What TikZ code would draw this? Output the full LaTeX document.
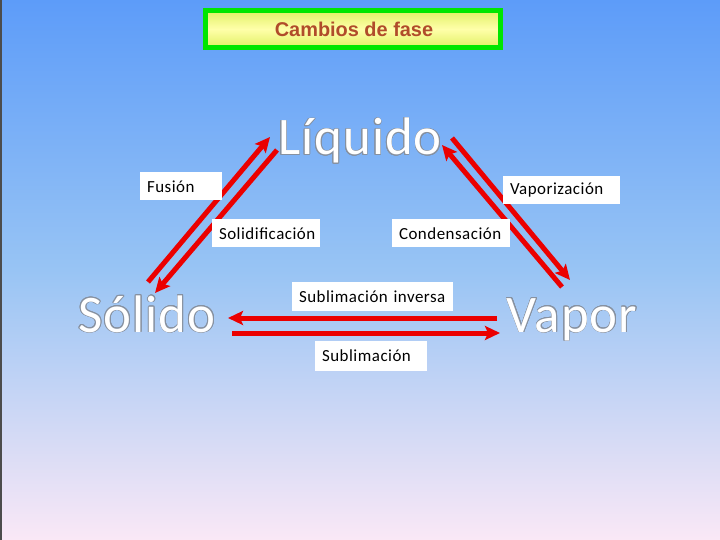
\documentclass[tikz,border=0pt]{standalone}
\usepackage{fontspec}
\setmainfont{Carlito}
\newfontfamily\arialf{Liberation Sans}
\newfontfamily\lblfont[LetterSpace=3]{Carlito}
\newfontfamily\bigfont[LetterSpace=2]{Carlito}
\usepackage{contour}
\contourlength{0.7pt}
\usetikzlibrary{arrows.meta}
\definecolor{bgtop}{RGB}{93,156,249}
\definecolor{bgmid}{RGB}{152,196,244}
\definecolor{bgbot}{RGB}{250,232,246}
\definecolor{titlegreen}{RGB}{0,230,0}
\definecolor{titleedge}{RGB}{225,240,100}
\definecolor{titlemid}{RGB}{255,255,170}
\definecolor{titletext}{RGB}{176,76,42}
\definecolor{arrred}{RGB}{235,0,0}
\definecolor{outlinegray}{RGB}{135,145,160}
\tikzset{
  phase/.style={font=\bigfont\fontsize{53}{57}\selectfont, text=white, inner sep=0pt},
  lbl/.style={fill=white, draw=none, font=\lblfont\fontsize{17}{19}\selectfont, inner xsep=7bp, inner ysep=0pt, align=left, minimum height=28bp},
  redarrow/.style={draw=arrred, line width=5bp, -{Stealth[length=15bp,width=14bp,inset=3bp]}},
}
\newcommand{\bigphase}[1]{\contour{outlinegray}{#1}}
\begin{document}
\begin{tikzpicture}[x=1bp,y=-1bp]
\useasboundingbox (0,0) rectangle (720,540);
\shade[top color=bgtop, bottom color=bgbot, middle color=bgmid] (0,0) rectangle (720,540);
\fill[black!70] (0,0) rectangle (1.5,540);
% title
\shade[top color=titleedge, bottom color=titleedge, middle color=titlemid] (205.5,10.5) rectangle (500.5,47.5);
\draw[titlegreen, line width=5bp] (205.5,10.5) rectangle (500.5,47.5);
\node[font=\arialf\bfseries\fontsize{20}{22}\selectfont, text=titletext, inner sep=0pt] (title) at (354,29) {Cambios de fase};
% phases
\node[phase, anchor=base] (liq) at (360,155) {\bigphase{Líquido}};
\node[phase, anchor=base] (sol) at (147,332) {\bigphase{Sólido}};
\node[phase, anchor=base] (vap) at (572,332) {\bigphase{Vapor}};
% arrow end coordinates
\coordinate (fusA) at (148,282); \coordinate (fusB) at (270,137);
\coordinate (solA) at (277,150); \coordinate (solB) at (155,293);
\coordinate (conA) at (562,287); \coordinate (conB) at (442,145);
\coordinate (vapA) at (452,138); \coordinate (vapB) at (570,280);
\coordinate (sinA) at (497,318); \coordinate (sinB) at (228,318);
\coordinate (subA) at (232,333); \coordinate (subB) at (500,333);
\draw[redarrow] (fusA) -- (fusB);
\draw[redarrow] (solA) -- (solB);
\draw[redarrow] (conA) -- (conB);
\draw[redarrow] (vapA) -- (vapB);
\draw[redarrow] (sinA) -- (sinB);
\draw[redarrow] (subA) -- (subB);
% labels
\node[lbl, text width=68bp] (lfus) at (181,186.5) {Fusión};
\node[lbl, text width=103bp] (lvap) at (561.5,190) {Vaporización};
\node[lbl, text width=94bp] (lsol) at (266,233.5) {Solidificación};
\node[lbl, text width=104bp] (lcon) at (451,233.5) {Condensación};
\node[lbl, text width=147bp, minimum height=29bp] (lsin) at (372.5,296.5) {Sublimación inversa};
\node[lbl, text width=98bp, minimum height=30bp] (lsub) at (371,356) {Sublimación};
\end{tikzpicture}
\end{document}
